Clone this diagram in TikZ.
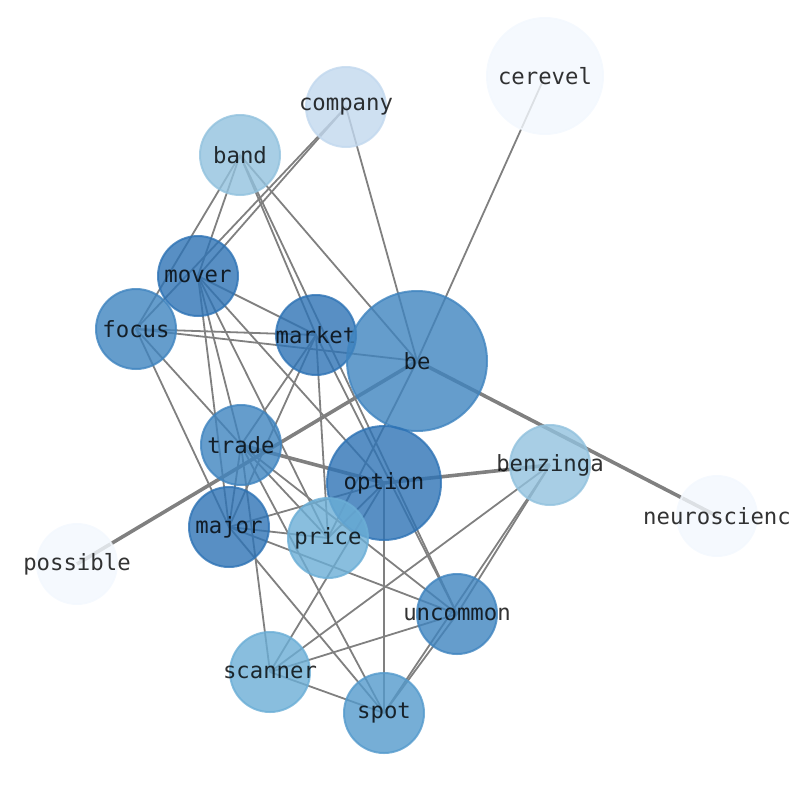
\documentclass[tikz,border=0pt]{standalone}
\usepackage{fontspec}
\newfontfamily\labelfont{DejaVu Sans Mono}
\definecolor{edgegray}{RGB}{128,128,128}
\definecolor{cDark}{RGB}{46,115,181}
\definecolor{cMid}{RGB}{63,132,191}
\definecolor{cSpot}{RGB}{84,154,204}
\definecolor{cLight}{RGB}{107,174,214}
\definecolor{cPale}{RGB}{146,194,222}
\definecolor{cPaler}{RGB}{194,216,238}
\definecolor{cWhite}{RGB}{243,248,254}
\newcommand{\nlab}[1]{\makebox[0pt]{#1}}
\tikzset{
  vert/.style={circle, inner sep=0pt, minimum size=80pt, line width=2pt,
    fill opacity=0.8, draw opacity=0.8, text opacity=0.8, text=black,
    font=\labelfont\fontsize{22.3}{26}\selectfont},
  edge/.style={draw=edgegray, line width=1.8pt},
  thickedge/.style={draw=edgegray, line width=3.6pt}
}
\begin{document}
\begin{tikzpicture}[x=1pt,y=-1pt]
\useasboundingbox (0,0) rectangle (794,790);
% centres
\coordinate (cerevel) at (545,76);
\coordinate (company) at (346,107);
\coordinate (band) at (240,155);
\coordinate (mover) at (198,276);
\coordinate (focus) at (136,329);
\coordinate (market) at (316,335);
\coordinate (be) at (417,361);
\coordinate (trade) at (241,445);
\coordinate (option) at (384,483);
\coordinate (benzinga) at (550,465);
\coordinate (major) at (229,527);
\coordinate (price) at (328,538);
\coordinate (possible) at (77,564);
\coordinate (neuro) at (717,516);
\coordinate (uncommon) at (457,614);
\coordinate (scanner) at (270,672);
\coordinate (spot) at (384,713);
% edges
\draw[edge] (cerevel) -- (be);
\draw[edge] (company) -- (be);
\draw[edge] (company) -- (mover);
\draw[edge] (company) -- (focus);
\draw[edge] (band) -- (mover);
\draw[edge] (band) -- (focus);
\draw[edge] (band) -- (market);
\draw[edge] (band) -- (be);
\draw[edge] (band) -- (uncommon);
\draw[edge] (market) -- (uncommon);
\draw[edge] (mover) -- (market);
\draw[edge] (focus) -- (market);
\draw[edge] (focus) -- (be);
\draw[thickedge] (be) -- (possible);
\draw[thickedge] (be) -- (neuro);
\draw[thickedge] (trade) -- (option);
\draw[thickedge] (option) -- (benzinga);
\draw[edge] (scanner) -- (trade);
\draw[edge] (scanner) -- (option);
\draw[edge] (scanner) -- (benzinga);
\draw[edge] (scanner) -- (uncommon);
\draw[edge] (scanner) -- (spot);
\draw[edge] (major) -- (spot);
\draw[edge] (trade) -- (spot);
\draw[edge] (option) -- (spot);
\draw[edge] (spot) -- (benzinga);
\draw[edge] (spot) -- (uncommon);
\draw[edge] (uncommon) -- (benzinga);
\draw[edge] (major) -- (uncommon);
\draw[edge] (trade) -- (uncommon);
\draw[edge] (focus) -- (major);
\draw[edge] (focus) -- (trade);
\draw[edge] (market) -- (trade);
\draw[edge] (market) -- (major);
\draw[edge] (market) -- (price);
\draw[edge] (mover) -- (major);
\draw[edge] (mover) -- (trade);
\draw[edge] (mover) -- (price);
\draw[edge] (mover) -- (option);
\draw[edge] (major) -- (option);
\draw[edge] (major) -- (price);
\draw[edge] (price) -- (option);
\draw[edge] (be) -- (price);
\draw[edge] (trade) -- (major);
\draw[edge] (trade) -- (price);
% nodes
\node[vert, minimum size=116pt, fill=cWhite, draw=cWhite] (n-cerevel) at (cerevel) {\nlab{cerevel}};
\node[vert, fill=cPaler, draw=cPaler] (n-company) at (company) {\nlab{company}};
\node[vert, fill=cPale, draw=cPale] (n-band) at (band) {\nlab{band}};
\node[vert, fill=cDark, draw=cDark] (n-mover) at (mover) {\nlab{mover}};
\node[vert, fill=cMid, draw=cMid] (n-focus) at (focus) {\nlab{focus}};
\node[vert, fill=cDark, draw=cDark] (n-market) at (market) {\nlab{market}};
\node[vert, minimum size=140pt, fill=cMid, draw=cMid] (n-be) at (be) {\nlab{be}};
\node[vert, fill=cMid, draw=cMid] (n-trade) at (trade) {\nlab{trade}};
\node[vert, minimum size=114pt, fill=cDark, draw=cDark] (n-option) at (option) {\nlab{option}};
\node[vert, fill=cPale, draw=cPale] (n-benzinga) at (benzinga) {\nlab{benzinga}};
\node[vert, fill=cDark, draw=cDark] (n-major) at (major) {\nlab{major}};
\node[vert, fill=cLight, draw=cLight] (n-price) at (price) {\nlab{price}};
\node[vert, fill=cWhite, draw=cWhite] (n-possible) at (possible) {\nlab{possible}};
\node[vert, fill=cWhite, draw=cWhite] (n-neuro) at (neuro) {\nlab{neuroscienc}};
\node[vert, fill=cMid, draw=cMid] (n-uncommon) at (uncommon) {\nlab{uncommon}};
\node[vert, fill=cLight, draw=cLight] (n-scanner) at (scanner) {\nlab{scanner}};
\node[vert, fill=cSpot, draw=cSpot] (n-spot) at (spot) {\nlab{spot}};
\end{tikzpicture}
\end{document}
